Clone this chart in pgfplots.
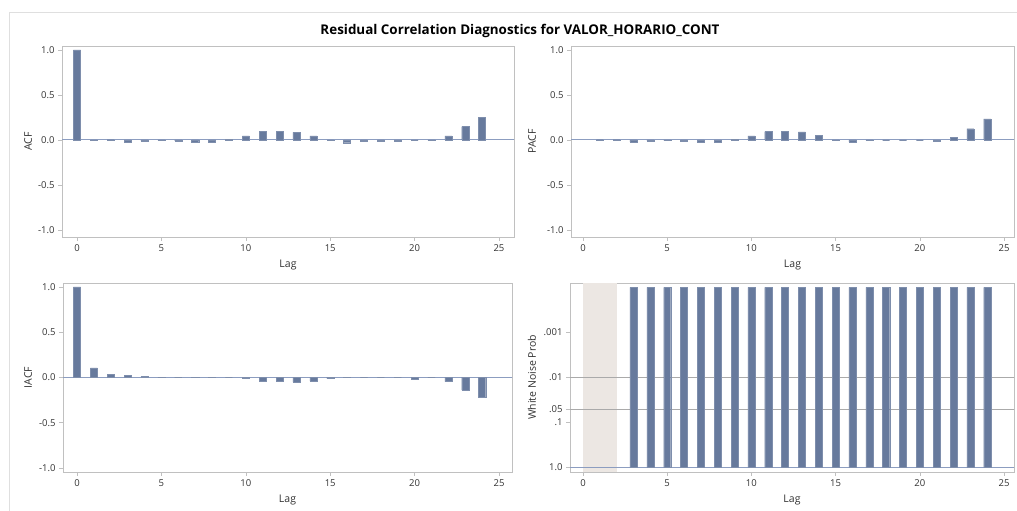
\documentclass[border=0pt]{standalone}
\usepackage{fontspec}
\setmainfont{Open Sans}
\usepackage{pgfplots}
\pgfplotsset{compat=1.18}

\definecolor{barblue}{RGB}{103,122,157}
\definecolor{zeroblue}{RGB}{140,157,192}
\definecolor{framegray}{RGB}{192,192,192}
\definecolor{labelgray}{RGB}{50,50,50}
\definecolor{refgray}{RGB}{170,170,170}
\definecolor{band}{RGB}{236,231,227}

\pgfplotsset{
  diag/.style={
    scale only axis,
    axis line style={framegray, line width=0.8pt},
    tick style={framegray, line width=0.6pt},
    major tick length=4pt,
    tick align=outside,
    tick pos=left,
    tick label style={font=\fontsize{9.5}{10}\selectfont, text=labelgray},
    label style={font=\fontsize{10.5}{12}\selectfont, text=labelgray},
    /pgf/number format/assume math mode=true,
    xtick={0,5,...,25},
    xlabel={Lag},
    xlabel style={at={([yshift=-28pt]axis description cs:0.5,0)}, anchor=center},
  },
  corr/.style={
    diag,
    ymin=-1.078, ymax=1.044,
    ytick={-1,-0.5,0,0.5,1},
    yticklabel style={/pgf/number format/.cd, fixed, fixed zerofill, precision=1},
  },
  bars/.style={ybar, bar width=0.42, fill=barblue, draw=barblue!85!white, line width=0.3pt},
  zline/.style={zeroblue, line width=1pt, forget plot},
}

\begin{document}
\begin{tikzpicture}[x=1pt,y=1pt]
\useasboundingbox (0,0) rectangle (1017,511);
\draw[gray!25, line width=0.8pt] (9,0) -- (9,499) -- (1017,499);
\node[font=\bfseries\fontsize{13.4}{15}\selectfont] at (520,480) {Residual Correlation Diagnostics for VALOR\_HORARIO\_CONT};

% ACF
\begin{axis}[corr, at={(62pt,274pt)}, anchor=south west, width=452pt, height=191pt,
  xmin=-0.89, xmax=25.89, ylabel={ACF},
  ylabel style={at={([xshift=-34pt]axis description cs:0,0.5)}, anchor=center}]
\addplot[zline] coordinates {(-1,0)(27,0)};
\addplot[bars] coordinates {
(0,1.0)(1,-0.004)(2,0.003)(3,-0.02)(4,-0.01)(5,-0.005)(6,-0.01)(7,-0.02)(8,-0.02)
(9,0.005)(10,0.046)(11,0.095)(12,0.095)(13,0.085)(14,0.045)(15,0.001)(16,-0.03)
(17,-0.015)(18,-0.01)(19,-0.01)(20,0.0)(21,-0.005)(22,0.045)(23,0.148)(24,0.25)
};
\end{axis}

% PACF
\begin{axis}[corr, at={(571pt,274pt)}, anchor=south west, width=443pt, height=191pt,
  xmin=-0.71, xmax=25.59, ylabel={PACF},
  ylabel style={at={([xshift=-39pt]axis description cs:0,0.5)}, anchor=center}]
\addplot[zline] coordinates {(-1,0)(27,0)};
\addplot[bars] coordinates {
(1,0.003)(2,0.003)(3,-0.02)(4,-0.01)(5,-0.005)(6,-0.01)(7,-0.02)(8,-0.02)
(9,0.005)(10,0.045)(11,0.093)(12,0.095)(13,0.09)(14,0.055)(15,0.001)(16,-0.02)
(17,-0.005)(18,0.0)(19,0.0)(20,0.0)(21,-0.015)(22,0.03)(23,0.125)(24,0.235)
};
\end{axis}

% IACF
\begin{axis}[corr, at={(63pt,39pt)}, anchor=south west, width=449pt, height=189pt,
  xmin=-0.83, xmax=25.77, ymin=-1.044, ymax=1.044, ylabel={IACF},
  ylabel style={at={([xshift=-35pt]axis description cs:0,0.5)}, anchor=center}]
\addplot[zline] coordinates {(-1,0)(27,0)};
\addplot[bars] coordinates {
(0,1.0)(1,0.105)(2,0.035)(3,0.025)(4,0.01)(5,0.003)(6,0.0)(7,0.005)(8,0.005)
(9,0.0)(10,-0.005)(11,-0.04)(12,-0.045)(13,-0.05)(14,-0.04)(15,-0.01)(16,0.005)
(17,0.0)(18,0.0)(19,0.0)(20,-0.015)(21,0.0)(22,-0.045)(23,-0.14)(24,-0.215)
};
\end{axis}

% White noise probability (-log10 p scale)
\begin{axis}[diag, at={(570pt,39pt)}, anchor=south west, width=444pt, height=189pt,
  xmin=-0.77, xmax=25.59, ymin=-0.1, ymax=4.1,
  ytick={0,1,1.30103,2,3}, yticklabels={1.0,.1,.05,.01,.001},
  ylabel={White Noise Prob},
  ylabel style={at={([xshift=-38pt]axis description cs:0,0.5)}, anchor=center}]
\addplot[fill=band, draw=none, forget plot] coordinates {(0,-0.1)(2,-0.1)(2,4.1)(0,4.1)} -- cycle;
\addplot[refgray, line width=0.8pt, forget plot] coordinates {(-1,2)(27,2)};
\addplot[refgray, line width=0.8pt, forget plot] coordinates {(-1,1.30103)(27,1.30103)};
\addplot[zline] coordinates {(-1,0)(27,0)};
\addplot[bars] coordinates {
(3,4)(4,4)(5,4)(6,4)(7,4)(8,4)(9,4)(10,4)(11,4)(12,4)(13,4)(14,4)
(15,4)(16,4)(17,4)(18,4)(19,4)(20,4)(21,4)(22,4)(23,4)(24,4)
};
\end{axis}
\end{tikzpicture}
\end{document}
